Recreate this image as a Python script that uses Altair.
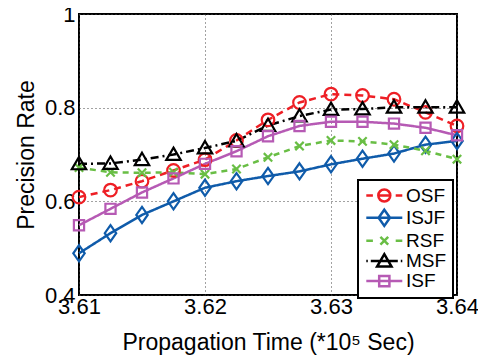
import altair as alt
import pandas as pd

# ---- data ----
x_values = [3.61, 3.6125, 3.615, 3.6175, 3.62, 3.6225, 3.625, 3.6275,
            3.63, 3.6325, 3.635, 3.6375, 3.64]
series_names = ["OSF", "ISJF", "RSF", "MSF", "ISF"]
osf = [0.609, 0.624, 0.643, 0.666, 0.689, 0.730, 0.774, 0.811, 0.829, 0.826, 0.818, 0.790, 0.761]
isjf = [0.489, 0.532, 0.571, 0.600, 0.629, 0.643, 0.654, 0.664, 0.679, 0.691, 0.702, 0.721, 0.729]
rsf = [0.672, 0.662, 0.661, 0.662, 0.658, 0.669, 0.694, 0.718, 0.730, 0.728, 0.721, 0.708, 0.690]
msf = [0.680, 0.681, 0.689, 0.700, 0.714, 0.729, 0.762, 0.782, 0.796, 0.797, 0.801, 0.801, 0.801]
isf = [0.549, 0.584, 0.619, 0.649, 0.680, 0.707, 0.739, 0.761, 0.770, 0.770, 0.766, 0.757, 0.741]
x_ticks = [3.61, 3.62, 3.63, 3.64]
y_ticks = [0.4, 0.6, 0.8, 1.0]

# ---- styles ----
colors = ["#EE1F25", "#0F5BAA", "#69BE45", "#000000", "#B65AB4"]
dashes = [[7, 5], [1, 0], [6, 5], [8, 4, 2, 4], [1, 0]]
FONT = "Liberation Sans"


def f(v):
    return f"{round(v, 3):g}"


def circle(cx, r):
    return f"M{f(cx + r)},0A{f(r)},{f(r)} 0 1,1 {f(cx - r)},0A{f(r)},{f(r)} 0 1,1 {f(cx + r)},0Z"


def diamond(cx, w, h):
    return f"M{f(cx)},{f(-h)}L{f(cx + w)},0L{f(cx)},{f(h)}L{f(cx - w)},0Z"


def xmark(cx, r):
    return f"M{f(cx - r)},{f(-r)}L{f(cx + r)},{f(r)}M{f(cx - r)},{f(r)}L{f(cx + r)},{f(-r)}"


def triangle(cx, w, top, bot):
    return f"M{f(cx)},{f(-top)}L{f(cx + w)},{f(bot)}L{f(cx - w)},{f(bot)}Z"


def square(cx, r):
    return f"M{f(cx - r)},{f(-r)}H{f(cx + r)}V{f(r)}H{f(cx - r)}Z"


def seg(a, b):
    return f"M{f(a)},0H{f(b)}"


marker_paths = [circle(0, 1.05), diamond(0, 0.95, 1.35), xmark(0, 0.7),
                triangle(0, 1.2, 1.15, 0.9), square(0, 0.85)]
c = 1.8
legend_paths = [
    seg(-1.2, -0.1) + seg(0.8, 2.8) + seg(3.7, 4.8) + circle(c, 1),
    seg(-1.2, 4.8) + diamond(c, 0.95, 1.35),
    seg(-1.2, -0.1) + seg(3.7, 4.8) + xmark(c, 0.65),
    seg(-1.2, -0.95) + seg(-0.45, 4.05) + seg(4.55, 4.8) + triangle(c, 1.2, 1.15, 0.9),
    seg(-1.2, 4.8) + square(c, 0.85),
]

rows = []
for name, vals in zip(series_names, [osf, isjf, rsf, msf, isf]):
    for xv, yv in zip(x_values, vals):
        rows.append({"t": xv, "rate": yv, "series": name})
df = pd.DataFrame(rows)

xenc = alt.X("t:Q", scale=alt.Scale(domain=[3.61, 3.64], nice=False, zero=False),
             axis=alt.Axis(values=x_ticks, format=".2f", title="Propagation Time (*10⁵ Sec)",
                           labelPadding=1, titlePadding=14, labelFlush=False))
yenc = alt.Y("rate:Q", scale=alt.Scale(domain=[0.4, 1.0], nice=False, zero=False),
             axis=alt.Axis(values=y_ticks, format="~g", title="Precision Rate",
                           labelPadding=4, titlePadding=6, labelFlush=False))

color_scale = alt.Scale(domain=series_names, range=colors)

legend = alt.Legend(title=None, orient="none", legendX=279, legendY=166,
                    direction="vertical", symbolSize=144, symbolStrokeWidth=2.5,
                    symbolOpacity=1, labelFont=FONT, labelFontSize=19, labelColor="black",
                    labelOffset=23, rowPadding=-2.7, padding=6, strokeColor="black",
                    fillColor="white")

base = alt.Chart(df)

lines = base.mark_line(strokeWidth=2.5).encode(
    x=xenc, y=yenc,
    color=alt.Color("series:N", scale=color_scale, legend=None),
    strokeDash=alt.StrokeDash("series:N", scale=alt.Scale(domain=series_names, range=dashes), legend=None),
)

points = base.mark_point(filled=False, size=144, strokeWidth=2.2, opacity=1).encode(
    x=xenc, y=yenc,
    color=alt.Color("series:N", scale=color_scale, legend=None),
    shape=alt.Shape("series:N", scale=alt.Scale(domain=series_names, range=marker_paths), legend=None),
)

proxy = base.mark_point(filled=False, size=144, strokeWidth=2.5, opacity=0).encode(
    x=xenc, y=yenc,
    color=alt.Color("series:N", scale=color_scale, legend=legend),
    shape=alt.Shape("series:N", scale=alt.Scale(domain=series_names, range=legend_paths), legend=legend),
)

chart = alt.layer(lines, points, proxy).resolve_scale(
    color="independent", shape="independent"
).properties(
    width=378, height=281,
    autosize=alt.AutoSizeParams(type="none"),
    padding={"left": 71, "top": 6, "right": 21, "bottom": 60},
).configure_view(
    stroke="black", strokeWidth=2
).configure_axis(
    domain=False, ticks=False, tickSize=0, grid=True, gridDash=[1, 3], gridColor="#444444",
    gridOpacity=1, gridWidth=1, labelFont=FONT, labelFontSize=22, labelColor="black",
    titleFont=FONT, titleFontSize=23, titleFontWeight="normal", titleColor="black",
).configure_legend(
    strokeWidth=2
)

chart.save("out.html", embed_options={"renderer": "svg", "actions": False})
